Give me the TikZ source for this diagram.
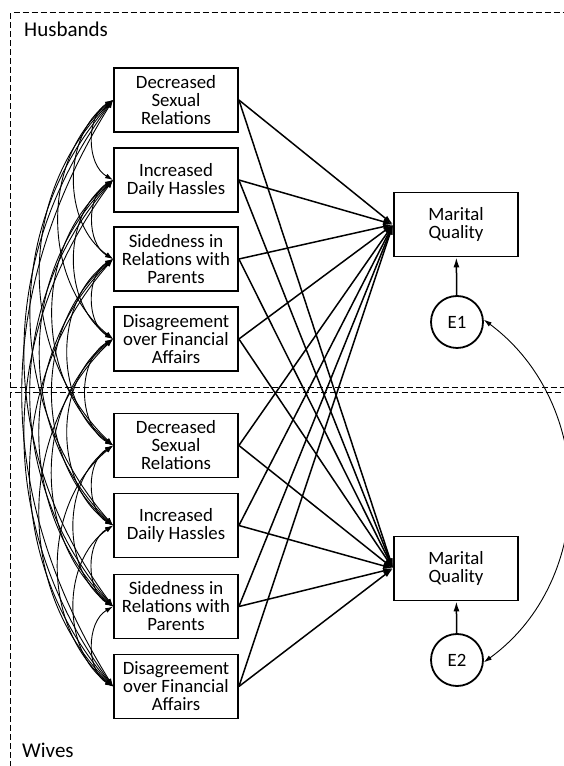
\documentclass[tikz,border=0pt]{standalone}
\usepackage{fontspec}
\setmainfont{Carlito}
\usetikzlibrary{arrows.meta}

\begin{document}
\begin{tikzpicture}[x=1pt, y=1pt,
    var/.style={draw, line width=1.8pt, minimum width=124pt, minimum height=64pt, align=center, inner sep=1pt, font=\fontsize{18.8}{18}\selectfont},
    err/.style={draw, circle, line width=1.8pt, minimum size=52pt, inner sep=0pt, font=\fontsize{18.8}{18}\selectfont},
    frame/.style={line width=1pt, dash pattern=on 6pt off 3pt},
    path/.style={line width=1.5pt, -{Latex[length=10pt, width=6pt]}},
    cov/.style={line width=0.9pt, {Latex[length=8pt, width=5pt]}-{Latex[length=8pt, width=5pt]}}]
    \useasboundingbox (0,0) rectangle (564,766);
    % group frames
    \draw[frame] (10.5,378) -- (10.5,753) -- (580,753);
    \draw[frame] (10.5,378) -- (580,378);
    \draw[frame] (10.5,-10) -- (10.5,373) -- (580,373);
    \node[anchor=base west, inner sep=0pt, font=\fontsize{21}{22}\selectfont] (hlab) at (24,729) {Husbands};
    \node[anchor=base west, inner sep=0pt, font=\fontsize{21}{22}\selectfont] (wlab) at (22,8.5) {Wives};
    % predictors
    \node[var] (b1) at (176,666) {Decreased\\Sexual\\Relations};
    \node[var] (b2) at (176,586) {Increased\\Daily Hassles};
    \node[var] (b3) at (176,507) {Sidedness in\\Relations with\\Parents};
    \node[var] (b4) at (176,427) {Disagreement\\over Financial\\Affairs};
    \node[var] (b5) at (176,320.5) {Decreased\\Sexual\\Relations};
    \node[var] (b6) at (176,240.5) {Increased\\Daily Hassles};
    \node[var] (b7) at (176,159.5) {Sidedness in\\Relations with\\Parents};
    \node[var] (b8) at (176,79.5) {Disagreement\\over Financial\\Affairs};
    % outcomes and errors
    \node[var] (mq1) at (456,541.5) {Marital\\Quality};
    \node[var] (mq2) at (456,197.5) {Marital\\Quality};
    \node[err] (e1) at (457,444) {E1};
    \node[err] (e2) at (457,106) {E2};
    \draw[path] (e1) -- (mq1);
    \draw[path] (e2) -- (mq2);
    \foreach \i in {1,...,8} {
        \draw[path] (b\i.east) -- (mq1.west);
        \draw[path] (b\i.east) -- (mq2.west);
    }
    % covariances
    \foreach \i in {1,...,7} {
        \pgfmathtruncatemacro\nxt{\i+1}
        \foreach \j in {\nxt,...,8} {
            \pgfmathsetmacro\ang{60-4.7*(\j-\i-1)}
            \draw[cov] (b\i.west) to[bend right=\ang] (b\j.west);
        }
    }
    \draw[cov] (e1.5) .. controls (597,362) and (597,186) .. (e2.-5);
\end{tikzpicture}
\end{document}
